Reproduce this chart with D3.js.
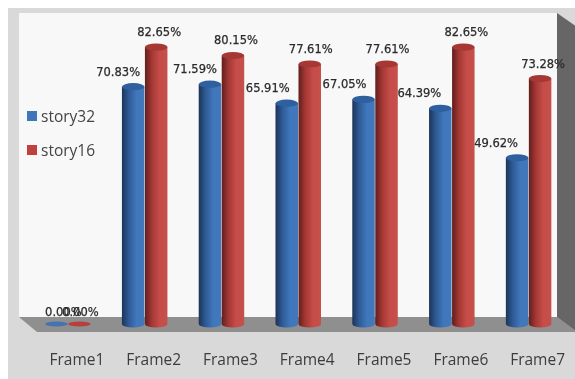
<!DOCTYPE html>
<html><head><meta charset="utf-8">
<script src="https://cdn.jsdelivr.net/npm/d3@7/dist/d3.min.js"></script>
<style>html,body{margin:0;padding:0;background:#fff}svg{display:block}</style>
</head><body><script>
const categories=["Frame1","Frame2","Frame3","Frame4","Frame5","Frame6","Frame7"];
const story32=[0,70.83,71.59,65.91,67.05,64.39,49.62];
const story16=[0,82.65,80.15,77.61,77.61,82.65,73.28];
const seriesNames=["story32","story16"];
const nudge32=[7,-15,-15,-19,-19,-21,-21];
const nudge16=[1,3,3,1,1,3,3];

const W=575,H=379;
const svg=d3.select("body").append("svg").attr("width",W).attr("height",H);
const defs=svg.append("defs");
defs.append("filter").attr("id","soft").append("feGaussianBlur").attr("stdDeviation",0.45);
const g=svg.append("g").attr("filter","url(#soft)");
function grad(id,stops){const l=defs.append("linearGradient").attr("id",id);
 stops.forEach(s=>l.append("stop").attr("offset",s[0]).attr("stop-color",s[1]));}
grad("gBlue",[[0,"#1c3358"],[.3,"#2f5a94"],[.65,"#3f77bd"],[1,"#4478b8"]]);
grad("gRed",[[0,"#5f1f1d"],[.3,"#a33734"],[.65,"#c64d49"],[1,"#c5504b"]]);

const x=d3.scaleBand().domain(categories).range([29.5,567]);
const y=d3.scaleLinear().domain([0,100]).range([324,-11]);
const barW=22.5;

g.append("rect").attr("x",8).attr("y",8).attr("width",W+10).attr("height",H+10).attr("fill","#d9d9d9");
g.append("rect").attr("x",19).attr("y",13).attr("width",538).attr("height",304).attr("fill","#f8f8f8");
g.append("path").attr("d","M19,317L557,317L577,332L37,332Z").attr("fill","#8f8f8f");
g.append("path").attr("d","M557,13L577,27L577,332L557,317Z").attr("fill","#666");

function drawSeries(vals,idx,fill,top,bottom,name){
 const cx=c=>x(c)+x.bandwidth()/2+(idx===0?-11.5:11.5);
 const layer=g.append("g").attr("class",name);
 categories.forEach((c,i)=>{
  const v=vals[i],X=cx(c),rx=barW/2,ry=3.6,ty=y(v),by=y(0);
  if(v>0){
   layer.append("path").attr("fill",fill)
    .attr("d",`M${X-rx},${ty}L${X-rx},${by}A${rx},${ry} 0 0 0 ${X+rx},${by}L${X+rx},${ty}Z`);
   layer.append("ellipse").attr("cx",X).attr("cy",ty).attr("rx",rx).attr("ry",ry).attr("fill",top);
  } else {
   layer.append("ellipse").attr("cx",X).attr("cy",by).attr("rx",rx).attr("ry",2.6).attr("fill",bottom);
  }
 });
 return {cx};
}
const s1=drawSeries(story32,0,"url(#gBlue)","#2f5f9f","#4472b0","story32");
const s2=drawSeries(story16,1,"url(#gRed)","#a53835","#b5413e","story16");

function labels(vals,s,nudge){
 categories.forEach((c,i)=>{
  g.append("text").attr("x",s.cx(c)+nudge[i]).attr("y",y(vals[i])-(vals[i]>0?11:8))
   .attr("text-anchor","middle").attr("font-family","DejaVu Sans").attr("font-size",11.5)
   .attr("fill","#2b2b2b").attr("stroke","#2b2b2b").attr("stroke-width",0.25).text(vals[i].toFixed(2)+"%");
 });
}
labels(story32,s1,nudge32);
labels(story16,s2,nudge16);

const axis=d3.axisBottom(x).tickSize(0).tickPadding(0);
const ax=g.append("g").attr("transform","translate(9,354)").call(axis);
ax.select(".domain").remove();
ax.selectAll("text").attr("font-family","Open Sans").attr("font-size",15.5).attr("fill","#3c3c3c").attr("dy","0.71em");

const lg=g.append("g");
const legendColors=["#3f74b8","#c0413e"];
const legendY=d3.scalePoint().domain(seriesNames).range([116,150]);
seriesNames.forEach((n,i)=>{
 lg.append("rect").attr("x",27).attr("y",legendY(n)-5).attr("width",10).attr("height",10).attr("fill",legendColors[i]);
 lg.append("text").attr("x",41).attr("y",legendY(n)+6).attr("font-family","Open Sans").attr("font-size",15.5).attr("fill","#444").text(n);
});
</script></body></html>
